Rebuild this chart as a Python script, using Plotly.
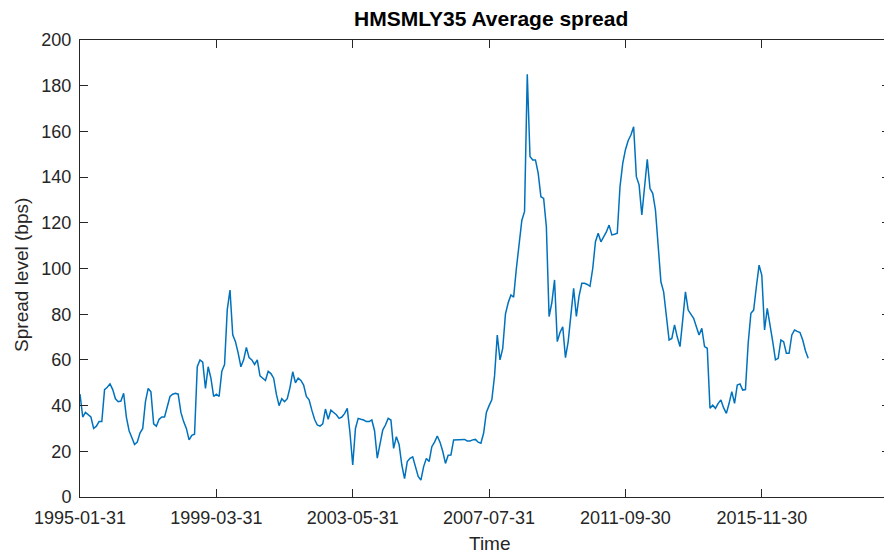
import plotly.graph_objects as go

# Monthly average spread (bps), starting 1995-01-31
spread = [
    45, 35, 37, 36, 35, 30, 31, 33, 33, 47,
    48, 49.5, 47, 43, 41.7, 42, 45.4, 35, 29, 26,
    23, 24, 28, 30, 41.7, 47.5, 46, 32, 31, 34,
    35, 35, 40, 44, 45, 45.4, 45, 37, 33, 30,
    25, 27, 27.5, 57, 60, 59, 47.5, 57, 52, 44,
    45, 44, 55, 58, 82, 90.6, 71, 68, 63, 57,
    60, 65.5, 61, 60, 58, 60, 53, 52, 51, 55,
    54, 52, 45, 40, 43, 41.7, 43, 48, 54.8, 50,
    52, 51, 49, 44, 42.5, 38, 34, 31.5, 31, 32,
    38.5, 34, 38, 37, 36, 34.4, 35, 36.5, 38.8, 28,
    14, 30, 34.4, 34, 33.7, 33, 33, 33.7, 29, 17,
    24, 29.3, 31.5, 34.4, 33.7, 21.3, 26.4, 23, 14, 8,
    15.5, 16.9, 17.6, 13.3, 9, 7.4, 13.3, 16.9, 15.5, 22,
    24, 26.7, 24, 20, 14.7, 18.3, 18.4, 25, 25, 25.2,
    25, 25.2, 24.5, 24.5, 25, 25.2, 24, 23.5, 28, 37,
    40, 42.5, 53, 70.9, 60, 65, 80, 85, 88.4, 87.5,
    100, 112, 121, 125, 185, 149, 147.5, 147.5, 141.7, 131.4,
    130.7, 118.3, 79, 85, 95, 68, 72, 74.5, 61, 68,
    80, 91.3, 79, 88, 93.5, 93.5, 93, 92.2, 100, 111.7,
    115.4, 111.7, 113.8, 116, 119, 114.7, 115, 115.4, 135.8, 146,
    152, 156, 158.4, 162, 140.2, 136.6, 123.4, 135.8, 147.8, 135,
    132.9, 125.6, 108, 94.2, 89.8, 78.9, 68.7, 69.4, 75.3, 70,
    65.8, 77.5, 89.8, 81.8, 80, 78.2, 74.5, 70.9, 73.8, 65.8,
    65.1, 38.8, 40.2, 38.8, 41, 42.5, 39, 36.6, 41, 46.1,
    41, 49, 49.5, 46.8, 47, 67.3, 80.4, 81.8, 92, 101.5,
    97, 73.1, 82.6, 76, 68, 60, 60.7, 68.7, 68, 62.9,
    62.9, 70.9, 73.1, 72.5, 72, 68.7, 64, 60.7,
]
month_index = list(range(len(spread)))

tick_positions = [0, 50, 100, 150, 200, 250]
tick_labels = ["1995-01-31", "1999-03-31", "2003-05-31", "2007-07-31", "2011-09-30", "2015-11-30"]
y_ticks = list(range(0, 201, 20))

title_text = "HMSMLY35 Average spread"
x_title = "Time"
y_title = "Spread level (bps)"

axis_color = "#262626"
font_family = "Liberation Sans, Arial, sans-serif"

fig = go.Figure()
fig.add_trace(go.Scatter(
    x=month_index, y=spread, mode="lines",
    line=dict(color="#0072BD", width=1.5),
    showlegend=False,
))

# the page body adds an 8px offset, so the figure is sized to fit the window
fig.update_layout(
    width=884, height=545,
    margin=dict(l=72, r=2, t=32, b=56, autoexpand=False),
    paper_bgcolor="white", plot_bgcolor="white",
    font=dict(family=font_family, color=axis_color, size=18),
    annotations=[
        dict(text="<b>" + title_text + "</b>", xref="paper", yref="paper",
             x=0.507, y=1.048, xanchor="center", yanchor="middle", showarrow=False,
             font=dict(size=21, color="#000000")),
        dict(text=x_title, xref="paper", yref="paper",
             x=0.506, y=-0.1028, xanchor="center", yanchor="middle", showarrow=False,
             font=dict(size=19, color=axis_color)),
        dict(text=y_title, xref="paper", yref="paper", textangle=-90,
             x=-0.0716, y=0.486, xanchor="center", yanchor="middle", showarrow=False,
             font=dict(size=19, color=axis_color)),
    ],
)

fig.update_xaxes(
    range=[0, 297], tickmode="array", tickvals=tick_positions, ticktext=tick_labels,
    ticks="inside", ticklen=8, tickcolor=axis_color, tickwidth=1,
    showline=True, linecolor=axis_color, linewidth=1, mirror="ticks",
    showgrid=False, zeroline=False, automargin=False,
    ticklabelstandoff=4,
    tickfont=dict(size=18, color=axis_color),
)
fig.update_yaxes(
    range=[0, 200], tickmode="array", tickvals=y_ticks,
    ticks="inside", ticklen=8, tickcolor=axis_color, tickwidth=1,
    showline=True, linecolor=axis_color, linewidth=1, mirror="ticks",
    showgrid=False, zeroline=False, automargin=False,
    ticklabelstandoff=4,
    tickfont=dict(size=18, color=axis_color),
)

fig.write_html("out.html")
